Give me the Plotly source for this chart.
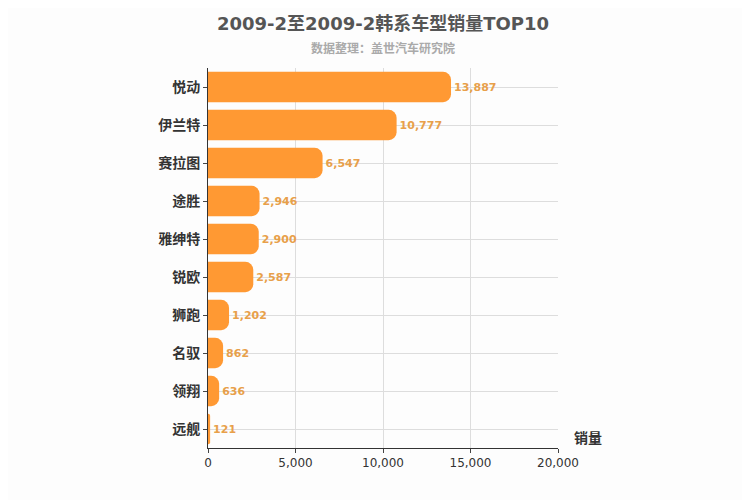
import plotly.graph_objects as go

models = ["悦动", "伊兰特", "赛拉图", "途胜", "雅绅特", "锐欧", "狮跑", "名驭", "领翔", "远舰"]
sales = [13887, 10777, 6547, 2946, 2900, 2587, 1202, 862, 636, 121]

font = "DejaVu Sans, Noto Sans CJK SC"

fig = go.Figure(go.Bar(
    x=sales, y=models, orientation="h",
    marker=dict(color="#ff9933", line=dict(width=0)),
    text=[f"{v:,}" for v in sales], textposition="outside",
    textfont=dict(color="#e8a04a", size=11, family=font, weight="bold"),
    cliponaxis=False,
))

fig.update_layout(
    width=750, height=500,
    paper_bgcolor="#fdfdfd", plot_bgcolor="#fdfdfd",
    margin=dict(l=200, r=200, t=60, b=60, autoexpand=False),
    bargap=0.2, barcornerradius=8,
    font=dict(family=font, color="#333"),
    title=dict(text="<b>2009-2至2009-2韩系车型销量TOP10</b>", x=0.5, xanchor="center",
               y=0.968, yanchor="middle", font=dict(size=18, color="#555")),
    showlegend=False,
    xaxis=dict(range=[0, 20000], tickvals=[0, 5000, 10000, 15000, 20000], tickformat=",",
               showgrid=True, gridcolor="#dddddd", zeroline=False, automargin=False,
               showline=True, linecolor="#333", ticks="outside", ticklen=4,
               tickfont=dict(size=12, color="#333")),
    yaxis=dict(autorange="reversed", showgrid=True, gridcolor="#dddddd", automargin=False,
               showline=True, linecolor="#333", ticks="outside", ticklen=4,
               tickfont=dict(size=14, color="#333", weight="bold")),
    annotations=[
        dict(text="数据整理：盖世汽车研究院", xref="paper", yref="paper", x=0.5, y=1.05,
             yanchor="middle", showarrow=False, font=dict(size=12, color="#aaa", weight="bold")),
        dict(text="销量", xref="paper", yref="paper", x=1.04, y=0.0, xanchor="left", yanchor="bottom",
             showarrow=False, font=dict(size=14, color="#333", weight="bold")),
    ],
)

fig.write_html("out.html")
